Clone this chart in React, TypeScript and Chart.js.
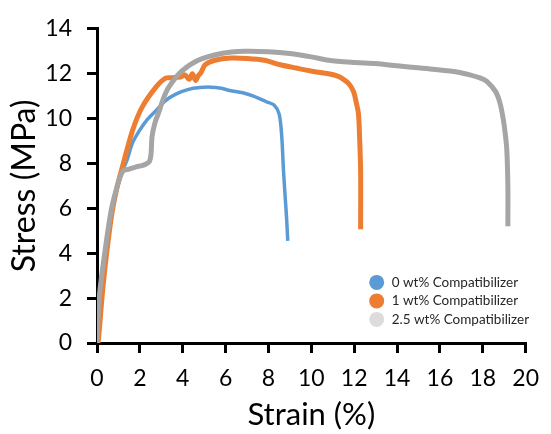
import React, { useEffect, useRef } from "react";
import { Chart, registerables } from "chart.js";

Chart.register(...registerables);

const seriesLabels = ["0 wt% Compatibilizer", "1 wt% Compatibilizer", "2.5 wt% Compatibilizer"];
const lineColors = ["#5B9BD5", "#ED7D31", "#A5A5A5"];
const legendColors = ["#5B9BD5", "#ED7D31", "#DCDCDC"];

// strain (%) and stress (MPa) for each sample
const strain0 = [0, 0.2, 0.4, 0.6, 0.8, 1.0, 1.2, 1.4, 1.65, 1.97, 2.3, 2.75, 3.2, 3.7, 4.27, 4.8, 5.3, 5.8, 6.2, 6.8, 7.3, 7.9, 8.26, 8.5, 8.62, 8.7, 8.78, 8.85, 8.9];
const stress0 = [0, 2.1, 3.8, 5.2, 6.3, 7.1, 7.7, 8.15, 8.9, 9.45, 9.9, 10.35, 10.8, 11.1, 11.3, 11.38, 11.4, 11.35, 11.25, 11.15, 11.0, 10.75, 10.6, 10.2, 9.2, 7.7, 6.5, 5.5, 4.55];

const strain1 = [0, 0.05, 0.25, 0.45, 0.7, 0.95, 1.2, 1.65, 2.1, 2.75, 3.2, 3.5, 3.9, 4.1, 4.3, 4.45, 4.6, 4.72, 4.85, 5.05, 5.5, 6.25, 7.0, 7.8, 8.55, 9.3, 10.1, 10.8, 11.2, 11.5, 11.75, 11.97, 12.1, 12.2, 12.25, 12.3, 12.3];
const stress1 = [0, 0, 2.2, 4.0, 5.8, 7.0, 7.9, 9.45, 10.5, 11.4, 11.8, 11.82, 11.85, 11.95, 11.75, 12.0, 11.7, 11.9, 12.05, 12.4, 12.6, 12.7, 12.68, 12.6, 12.4, 12.25, 12.1, 12.0, 11.9, 11.75, 11.55, 11.2, 10.7, 10.2, 9.2, 7.7, 5.07];

const strain2 = [0, 0.1, 0.37, 0.67, 0.95, 1.2, 1.5, 1.83, 2.1, 2.34, 2.45, 2.52, 2.57, 2.7, 2.89, 3.1, 3.35, 3.94, 4.72, 5.8, 6.9, 8.0, 9.0, 10.0, 10.8, 12.06, 13.0, 14.0, 15.1, 16.65, 17.4, 17.9, 18.2, 18.6, 18.8, 18.95, 19.05, 19.12, 19.17, 19.17];
const stress2 = [0, 2.0, 4.07, 5.95, 7.0, 7.65, 7.75, 7.85, 7.9, 8.0, 8.1, 8.4, 9.2, 9.8, 10.3, 10.9, 11.4, 12.1, 12.6, 12.9, 13.0, 12.98, 12.9, 12.75, 12.6, 12.5, 12.45, 12.35, 12.25, 12.1, 11.95, 11.8, 11.65, 11.2, 10.7, 10.0, 9.3, 8.6, 7.0, 5.2];

const xTicks = [0, 2, 4, 6, 8, 10, 12, 14, 16, 18, 20];
const yTicks = [0, 2, 4, 6, 8, 10, 12, 14];

const FONT = "Lato, 'Open Sans', sans-serif";

function pts(xs: number[], ys: number[]) {
  return xs.map((x, i) => ({ x, y: ys[i] }));
}

const legendPlugin = {
  id: "insideLegend",
  afterDraw(chart: any) {
    const ctx = chart.ctx;
    const xs = chart.scales.x;
    const ys = chart.scales.y;
    const cx = xs.getPixelForValue(13.05);
    const cy0 = ys.getPixelForValue(2.7);
    const rowH = 18.5;
    ctx.save();
    ctx.font = `13.5px ${FONT}`;
    ctx.textBaseline = "middle";
    ctx.textAlign = "left";
    chart.data.datasets.forEach((ds: any, i: number) => {
      const cy = cy0 + i * rowH;
      ctx.beginPath();
      ctx.fillStyle = legendColors[i];
      ctx.arc(cx, cy, 7.5, 0, Math.PI * 2);
      ctx.fill();
      ctx.fillStyle = "#262626";
      ctx.fillText(ds.label, cx + 15, cy);
    });
    ctx.restore();
  },
};

export default function App() {
  const ref = useRef<HTMLCanvasElement | null>(null);
  useEffect(() => {
    if (!ref.current) return;
    const chart = new Chart(ref.current, {
      type: "scatter",
      data: {
        datasets: [
          {
            label: seriesLabels[0],
            data: pts(strain0, stress0),
            borderColor: lineColors[0],
            backgroundColor: lineColors[0],
            borderWidth: 3.5,
            showLine: true,
            pointRadius: 0,
            tension: 0.3,
            order: 2,
          },
          {
            label: seriesLabels[1],
            data: pts(strain1, stress1),
            borderColor: lineColors[1],
            backgroundColor: lineColors[1],
            borderWidth: 5,
            showLine: true,
            pointRadius: 0,
            tension: 0.3,
            order: 1,
          },
          {
            label: seriesLabels[2],
            data: pts(strain2, stress2),
            borderColor: lineColors[2],
            backgroundColor: lineColors[2],
            borderWidth: 5,
            showLine: true,
            pointRadius: 0,
            tension: 0.3,
            order: 0,
          },
        ],
      },
      options: {
        responsive: false,
        animation: false,
        events: [],
        layout: { padding: { left: 5, top: 23, right: 18, bottom: 0 } },
        plugins: {
          legend: { display: false },
          tooltip: { enabled: false },
        },
        scales: {
          x: {
            type: "linear",
            min: 0,
            max: 20,
            afterBuildTicks: (s: any) => {
              s.ticks = xTicks.map((v) => ({ value: v }));
            },
            afterFit: (s: any) => {
              s.height = 91;
            },
            ticks: {
              font: { family: FONT, size: 23 },
              color: "#000",
              padding: 12,
              maxRotation: 0,
            },
            grid: {
              drawOnChartArea: false,
              drawTicks: true,
              tickLength: 10,
              color: "#000",
              lineWidth: 3,
            },
            border: { display: true, color: "#000", width: 3 },
            title: {
              display: true,
              text: "Strain (%)",
              font: { family: FONT, size: 31 },
              color: "#000",
              padding: 0,
            },
          },
          y: {
            type: "linear",
            min: 0,
            max: 14,
            afterBuildTicks: (s: any) => {
              s.ticks = yTicks.map((v) => ({ value: v }));
            },
            afterFit: (s: any) => {
              s.width = 92;
            },
            ticks: {
              font: { family: FONT, size: 23 },
              color: "#000",
              padding: 15,
            },
            grid: {
              drawOnChartArea: false,
              drawTicks: true,
              tickLength: 10,
              color: "#000",
              lineWidth: 3,
            },
            border: { display: true, color: "#000", width: 3 },
            title: {
              display: true,
              text: "Stress (MPa)",
              font: { family: FONT, size: 32 },
              color: "#000",
              padding: 0,
            },
          },
        },
      },
      plugins: [legendPlugin],
    });
    return () => chart.destroy();
  }, []);
  return (
    <div style={{ position: "absolute", left: 0, top: 0, width: 551, height: 434, background: "#fff" }}>
      <canvas ref={ref} width={551} height={434} style={{ display: "block" }} />
    </div>
  );
}
